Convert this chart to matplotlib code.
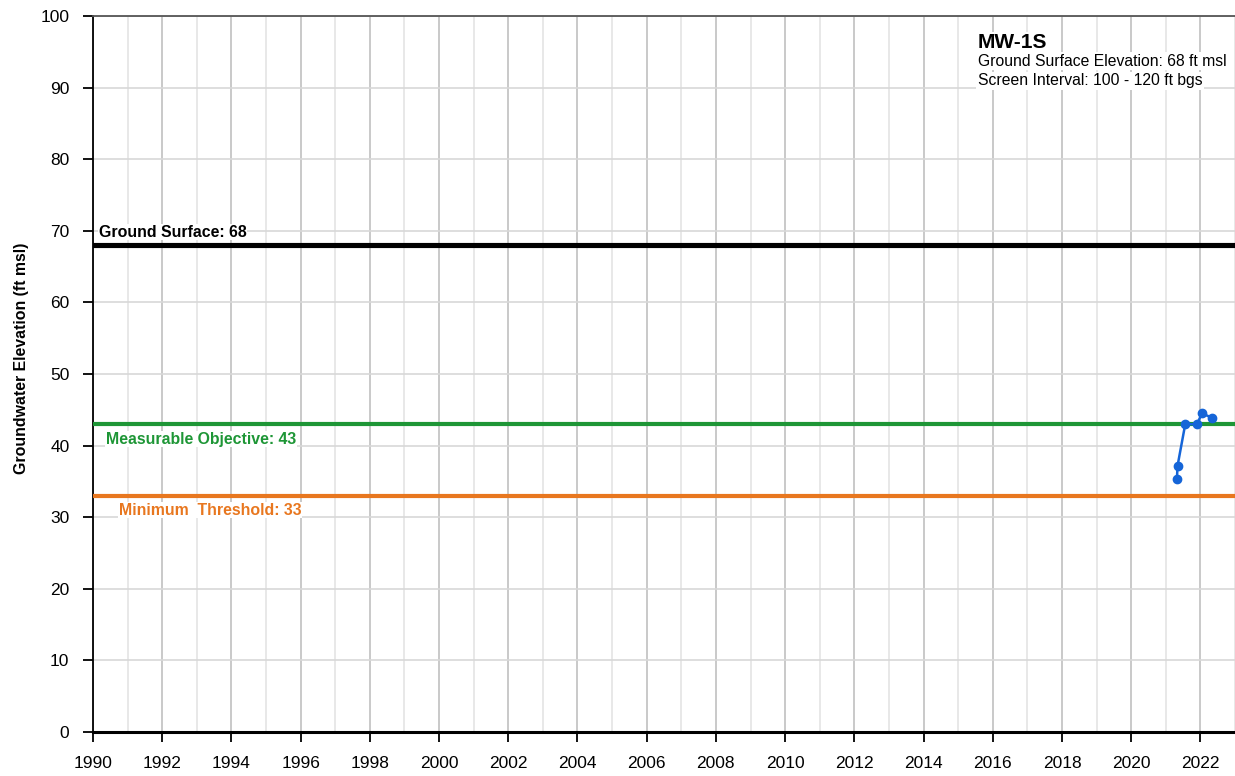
import matplotlib.pyplot as plt
import matplotlib.dates as mdates
import pandas as pd

plt.rcParams['font.family'] = ['Liberation Sans', 'DejaVu Sans']

# Measured groundwater elevations (ft msl)
dates = pd.to_datetime(['2021-04-28', '2021-05-05', '2021-07-25',
                        '2021-11-25', '2022-01-18', '2022-05-01'])
elev = [35.4, 37.2, 43.0, 43.0, 44.5, 43.9]

ground_surface = 68
measurable_objective = 43
minimum_threshold = 33

fig = plt.figure(figsize=(12.35, 7.76), dpi=100)
ax = fig.add_axes([0.0753, 0.0567, 0.9247, 0.9227])

ax.set_xlim(pd.Timestamp('1990-01-01'), pd.Timestamp('2023-01-01'))
ax.set_ylim(0, 100)

ax.xaxis.set_major_locator(mdates.YearLocator(2))
ax.xaxis.set_minor_locator(mdates.YearLocator(1))
ax.xaxis.set_major_formatter(mdates.DateFormatter('%Y'))
ax.set_yticks(range(0, 101, 10))

ax.grid(True, which='major', axis='x', color='#c0c0c0', lw=1.2)
ax.grid(True, which='minor', axis='x', color='#e4e4e4', lw=1.2)
ax.grid(True, which='major', axis='y', color='#d8d8d8', lw=1.2)
ax.set_axisbelow(True)

ax.tick_params(axis='both', which='major', labelsize=12.5, length=7, width=1.3,
               direction='out', color='black')
ax.tick_params(axis='x', which='minor', length=0)
ax.tick_params(axis='x', pad=10)
ax.tick_params(axis='y', pad=10)

for s in ['left', 'bottom']:
    ax.spines[s].set_color('black')
ax.spines['left'].set_linewidth(1.3)
ax.spines['bottom'].set_linewidth(2.2)
ax.spines['top'].set_color('#555555')
ax.spines['top'].set_linewidth(1.3)
ax.spines['right'].set_visible(False)

ax.set_ylabel('Groundwater Elevation (ft msl)', fontsize=11.4, fontweight='bold')
ax.yaxis.set_label_coords(-0.056, 0.522)

ax.axhline(ground_surface, color='black', lw=3.7, zorder=3)
ax.axhline(measurable_objective, color='#1e9636', lw=3, zorder=3)
ax.axhline(minimum_threshold, color='#e8771f', lw=3, zorder=3)

lbl = dict(fontsize=11.4, fontweight='bold', va='center', ha='left', zorder=4,
           bbox=dict(facecolor='white', edgecolor='none', pad=0.5))
ax.text(pd.Timestamp('1990-03-01'), 69.8, 'Ground Surface: 68', color='black', **lbl)
ax.text(pd.Timestamp('1990-05-15'), 40.9, 'Measurable Objective: 43', color='#1e9636', **lbl)
ax.text(pd.Timestamp('1990-10-01'), 31.0, 'Minimum  Threshold: 33', color='#e8771f', **lbl)

ax.plot(dates, elev, color='#1565d8', lw=1.8, marker='o', markersize=6, zorder=5)

# Well info box
box = dict(facecolor='white', edgecolor='none', pad=1)
fig.text(0.7915, 0.945, 'MW-1S', fontsize=15, fontweight='bold', va='center', ha='left', bbox=box)
fig.text(0.7915, 0.921, 'Ground Surface Elevation: 68 ft msl', fontsize=11.3,
         va='center', ha='left', bbox=box)
fig.text(0.7915, 0.896, 'Screen Interval: 100 - 120 ft bgs', fontsize=11.3,
         va='center', ha='left', bbox=box)

fig.savefig('out.png', dpi=100)
